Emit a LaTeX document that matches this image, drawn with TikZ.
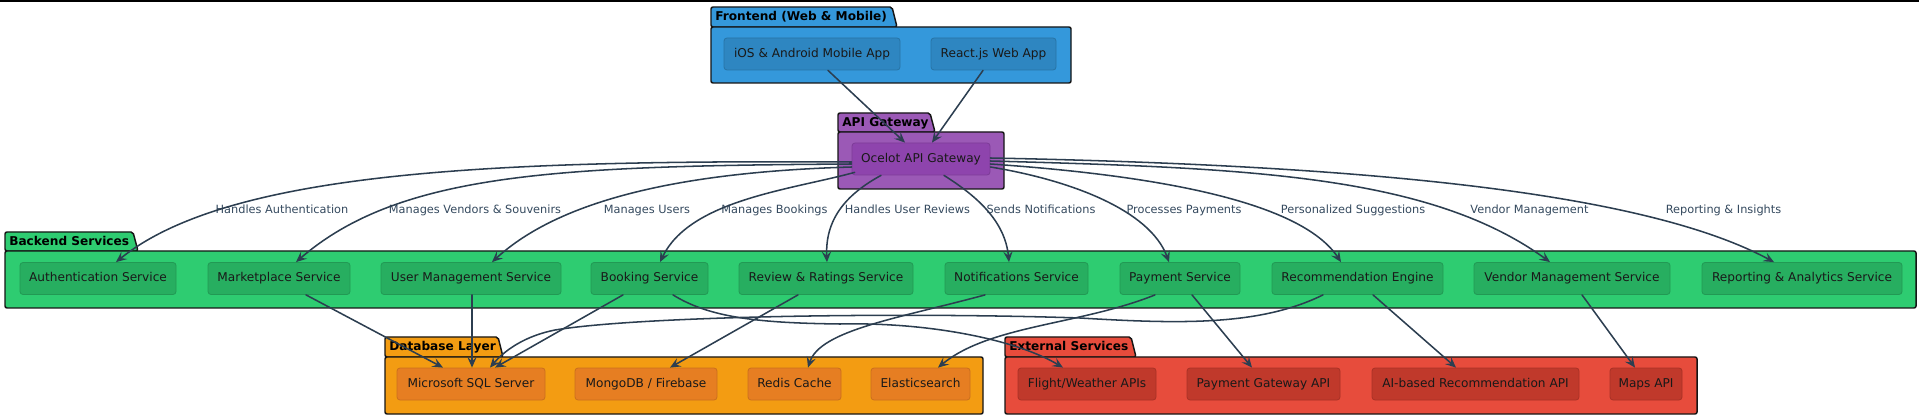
\documentclass[tikz,border=0pt]{standalone}
\usepackage{fontspec}
\setmainfont{DejaVu Sans}
\usetikzlibrary{calc,arrows.meta}
\definecolor{feB}{HTML}{3498DB}\definecolor{feN}{HTML}{2E86C1}\definecolor{feD}{HTML}{2874A6}
\definecolor{apB}{HTML}{9B59B6}\definecolor{apN}{HTML}{8E44AD}\definecolor{apD}{HTML}{7D3C98}
\definecolor{beB}{HTML}{2ECC71}\definecolor{beN}{HTML}{27AE60}\definecolor{beD}{HTML}{229954}
\definecolor{dbB}{HTML}{F39C12}\definecolor{dbN}{HTML}{E67E22}\definecolor{dbD}{HTML}{CA6F1E}
\definecolor{exB}{HTML}{E74C3C}\definecolor{exN}{HTML}{C0392B}\definecolor{exD}{HTML}{A93226}
\definecolor{edgec}{HTML}{2C3E50}\definecolor{lblc}{HTML}{34495E}\definecolor{pkgc}{HTML}{151515}
\begin{document}
\begin{tikzpicture}[x=0.75pt,y=-0.75pt,
  pkg/.style={draw=pkgc,line width=1.1pt,rounded corners=1.5pt},
  svc/.style={draw,rounded corners=2.25pt,line width=0.6pt,inner sep=0pt,minimum height=24pt,
    text height=6.8pt,text depth=1.9pt,
    font=\fontsize{9.1}{11}\selectfont,text=black!90},
  fe/.style={svc,fill=feN,draw=feD},
  ap/.style={svc,fill=apN,draw=apD},
  be/.style={svc,fill=beN,draw=beD},
  db/.style={svc,fill=dbN,draw=dbD},
  ex/.style={svc,fill=exN,draw=exD},
  ttl/.style={font=\fontsize{9.1}{11}\selectfont\bfseries,anchor=west,inner sep=0pt,text=black,
    text height=6.8pt,text depth=1.9pt},
  lbl/.style={font=\fontsize{8.5}{10}\selectfont,text=lblc,inner sep=0pt,
    text height=6.3pt,text depth=1.8pt},
  conn/.style={draw=edgec,line width=1.15pt,line cap=round,
    -{Stealth[length=8pt,width=7pt,inset=3.2pt]}}]
\useasboundingbox (0,0) rectangle (1919,416);
\fill[black] (0,0) rectangle (1919,2.2);

% packages
\draw[pkg,fill=feB] (711,27) -- (711,7) -- (892,7) -- (897,27) -- cycle;
\draw[pkg,fill=feB] (711,27) rectangle (1071,83);
\node[ttl] (tfe) at (715,17.5) {Frontend (Web \& Mobile)};

\draw[pkg,fill=apB] (838,132) -- (838,113) -- (930,113) -- (935,132) -- cycle;
\draw[pkg,fill=apB] (838,132) rectangle (1004,189);
\node[ttl] (tap) at (842,123) {API Gateway};

\draw[pkg,fill=beB] (5,251) -- (5,232) -- (133,232) -- (138,251) -- cycle;
\draw[pkg,fill=beB] (5,251) rectangle (1916,308);
\node[ttl] (tbe) at (9,242) {Backend Services};

\draw[pkg,fill=dbB] (385,357) -- (385,337) -- (498,337) -- (503,357) -- cycle;
\draw[pkg,fill=dbB] (385,357) rectangle (983,414);
\node[ttl] (tdb) at (389,347.5) {Database Layer};

\draw[pkg,fill=exB] (1005,357) -- (1005,337) -- (1131,337) -- (1136,357) -- cycle;
\draw[pkg,fill=exB] (1005,357) rectangle (1697,414);
\node[ttl] (tex) at (1009,347.5) {External Services};

% nodes
\node[fe,minimum width=132pt] (ios) at (812,54) {iOS \& Android Mobile App};
\node[fe,minimum width=93.75pt] (react) at (993.5,54) {React.js Web App};
\node[ap,minimum width=103.5pt] (oc) at (921,159) {Ocelot API Gateway};

\node[be,minimum width=117pt] (auth) at (98,278.5) {Authentication Service};
\node[be,minimum width=106.5pt] (market) at (279,278.5) {Marketplace Service};
\node[be,minimum width=135pt] (user) at (471,278.5) {User Management Service};
\node[be,minimum width=87.75pt] (booking) at (649.5,278.5) {Booking Service};
\node[be,minimum width=130.5pt] (review) at (826,278.5) {Review \& Ratings Service};
\node[be,minimum width=107.25pt] (notif) at (1016.5,278.5) {Notifications Service};
\node[be,minimum width=90pt] (payment) at (1180,278.5) {Payment Service};
\node[be,minimum width=128.25pt] (recom) at (1357.5,278.5) {Recommendation Engine};
\node[be,minimum width=147pt] (vendor) at (1572,278.5) {Vendor Management Service};
\node[be,minimum width=150pt] (report) at (1802,278.5) {Reporting \& Analytics Service};

\node[db,minimum width=111pt] (mssql) at (471,384) {Microsoft SQL Server};
\node[db,minimum width=106.5pt] (mongo) at (646,384) {MongoDB / Firebase};
\node[db,minimum width=69.75pt] (redis) at (794.5,384) {Redis Cache};
\node[db,minimum width=74.25pt] (elastic) at (920.5,384) {Elasticsearch};

\node[ex,minimum width=103.5pt] (flight) at (1087,384) {Flight/Weather APIs};
\node[ex,minimum width=114.75pt] (paygw) at (1263.5,384) {Payment Gateway API};
\node[ex,minimum width=155.25pt] (ai) at (1475.5,384) {AI-based Recommendation API};
\node[ex,minimum width=54pt] (maps) at (1646,384) {Maps API};

% labels
\node[lbl] (l1) at (282,211) {Handles Authentication};
\node[lbl] (l2) at (475,211) {Manages Vendors \& Souvenirs};
\node[lbl] (l3) at (647,211) {Manages Users};
\node[lbl] (l4) at (774.5,211) {Manages Bookings};
\node[lbl] (l5) at (907.5,211) {Handles User Reviews};
\node[lbl] (l6) at (1041,211) {Sends Notifications};
\node[lbl] (l7) at (1184,211) {Processes Payments};
\node[lbl] (l8) at (1353,211) {Personalized Suggestions};
\node[lbl] (l9) at (1529.5,211) {Vendor Management};
\node[lbl] (l10) at (1723.5,211) {Reporting \& Insights};

% frontend -> gateway
\draw[conn] ($(ios.south)+(16,0)$) -- ($(oc.north)+(-16,0)$);
\draw[conn] ($(react.south)+(-10.5,0)$) -- ($(oc.north)+(11,0)$);

% gateway -> services
\draw[conn] ($(oc.west)+(0,3)$) .. controls (500,160) and (230,170) .. ($(auth.north)+(18,0)$);
\draw[conn] ($(oc.west)+(0,5)$) .. controls (560,166) and (400,172) .. ($(market.north)+(17,0)$);
\draw[conn] ($(oc.west)+(0,8)$) .. controls (680,172) and (560,200) .. ($(user.north)+(21,0)$);
\draw[conn] ($(oc.south west)+(3,-3)$) .. controls (790,190) and (690,200) .. ($(booking.north)+(10.5,0)$);
\draw[conn] ($(oc.south)+(-40,0)$) .. controls (845,195) and (825,220) .. ($(review.north)+(1,0)$);
\draw[conn] ($(oc.south)+(23,0)$) .. controls (975,195) and (1005,220) .. ($(notif.north)+(-7.5,0)$);
\draw[conn] ($(oc.east)+(0,8)$) .. controls (1070,180) and (1150,210) .. ($(payment.north)+(-11,0)$);
\draw[conn] ($(oc.east)+(0,5)$) .. controls (1150,175) and (1300,200) .. ($(recom.north)+(-16.5,0)$);
\draw[conn] ($(oc.east)+(0,2)$) .. controls (1250,168) and (1430,175) .. ($(vendor.north)+(-22,0)$);
\draw[conn] ($(oc.east)+(0,-1)$) .. controls (1350,165) and (1640,190) .. ($(report.north)+(-28,0)$);

% services -> data / external
\draw[conn] ($(market.south)+(27,0)$) -- ($(mssql.north)+(-28,0)$);
\draw[conn] ($(user.south)+(1,0)$) -- ($(mssql.north)+(1,0)$);
\draw[conn] ($(booking.south)+(-26.5,0)$) -- ($(mssql.north)+(24,0)$);
\draw[conn] ($(booking.south)+(23.5,0)$) .. controls (710,318) and (760,323) .. (840,324)
   .. controls (930,322) and (1017,340) .. ($(flight.north)+(-24,0)$);
\draw[conn] ($(review.south)+(-28,0)$) -- ($(mongo.north)+(24,0)$);
\draw[conn] ($(notif.south)+(-31.5,0)$) .. controls (900,318) and (820,330) .. ($(redis.north)+(13.5,0)$);
\draw[conn] ($(payment.south)+(-25,0)$) .. controls (1080,325) and (990,325) .. ($(elastic.north)+(17.5,0)$);
\draw[conn] ($(payment.south)+(12,0)$) -- ($(paygw.north)+(-11.5,0)$);
\draw[conn] ($(recom.south)+(-34.5,0)$) .. controls (1260,326) and (1180,324) .. (1080,318)
   .. controls (900,312) and (640,316) .. (555,330) .. controls (525,336) and (505,350) .. ($(mssql.north)+(19,0)$);
\draw[conn] ($(recom.south)+(15.5,0)$) -- ($(ai.north)+(-19.5,0)$);
\draw[conn] ($(vendor.south)+(10,0)$) -- ($(maps.north)+(-11,0)$);
\end{tikzpicture}
\end{document}
